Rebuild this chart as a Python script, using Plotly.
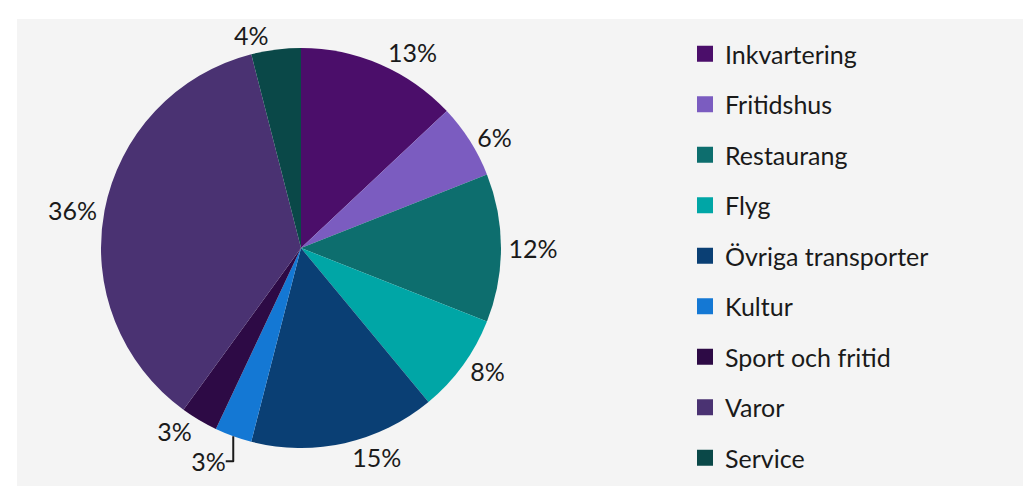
import plotly.graph_objects as go

categories = ["Inkvartering", "Fritidshus", "Restaurang", "Flyg", "Övriga transporter",
              "Kultur", "Sport och fritid", "Varor", "Service"]
shares = [13, 6, 12, 8, 15, 3, 3, 36, 4]
colors = ["#4b0e6a", "#7b5cc0", "#0d6e6e", "#00a6a6", "#0a3f74",
          "#1478d4", "#2d0a45", "#4a3272", "#0a4848"]

W, H = 1031, 486
FONT = "Lato, 'Open Sans', sans-serif"
ROW0, ROW_STEP, LEG_OFFSET = 56, 50.5, 33

fig = go.Figure()
fig.add_trace(go.Pie(
    labels=categories, values=shares, sort=False, direction="clockwise", rotation=0,
    marker=dict(colors=colors, line=dict(width=0)),
    texttemplate="%{value}%", textposition="outside",
    textfont=dict(family=FONT, size=25, color="#1a1a1a"),
    domain=dict(x=[93 / W, 493 / W], y=[46 / H, 446 / H]),
    showlegend=False, hoverinfo="label+percent",
))

legends = {}
for i, (cat, col) in enumerate(zip(categories, colors)):
    key = "legend" if i == 0 else f"legend{i + 1}"
    fig.add_trace(go.Scatter(
        x=[None], y=[None], mode="markers", name=cat,
        marker=dict(symbol="square", size=16, color=col),
        showlegend=True, legend=key,
    ))
    legends[key] = dict(
        x=677 / W, y=1 - (ROW0 + i * ROW_STEP - LEG_OFFSET) / H,
        xanchor="left", yanchor="top",
        font=dict(family=FONT, size=25, color="#1a1a1a"),
        itemwidth=30, bgcolor="rgba(0,0,0,0)",
    )

fig.update_layout(
    width=W, height=H,
    margin=dict(l=0, r=0, t=0, b=0, autoexpand=False),
    paper_bgcolor="white", plot_bgcolor="rgba(0,0,0,0)",
    xaxis=dict(visible=False), yaxis=dict(visible=False),
    shapes=[dict(type="rect", xref="paper", yref="paper", x0=9 / W, x1=1, y0=0, y1=1 - 11 / H,
                 fillcolor="#f4f4f4", line=dict(width=0), layer="below")],
    **legends,
)

fig.write_html("out.html")
